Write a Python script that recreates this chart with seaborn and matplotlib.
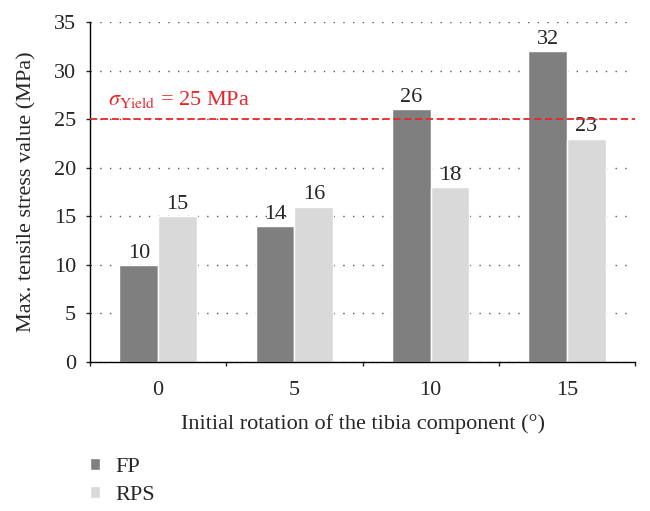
import pandas as pd
import matplotlib.pyplot as plt
import seaborn as sns
from matplotlib.ticker import FixedLocator

rotation = ["0", "5", "10", "15"]
fp_values = [10, 14, 26, 32]
rps_values = [15, 16, 18, 23]
yield_stress = 25

df = pd.DataFrame({
    "rotation": rotation * 2,
    "stress": fp_values + rps_values,
    "design": ["FP"] * 4 + ["RPS"] * 4,
})

sns.set_style("white")
plt.rcParams["font.family"] = ["Liberation Serif", "DejaVu Serif"]
plt.rcParams["mathtext.fontset"] = "stix"

fs = 16
fig = plt.figure(figsize=(6.5, 5.11), dpi=100)
ax = fig.add_axes([0.1385, 0.2916, 0.8385, 0.6654])

sns.barplot(data=df, x="rotation", y="stress", hue="design", order=rotation,
            palette={"FP": "#7f7f7f", "RPS": "#d9d9d9"}, width=0.57,
            saturation=1, ax=ax, legend=True)

for cont in ax.containers:
    ax.bar_label(cont, fontsize=fs, padding=1.5)

# yield line
ax.axhline(yield_stress, color="#e8262a", ls=(0, (4, 2)), lw=1.3, zorder=3)
ax.text(-0.37, 27.0, r"$\sigma_{\mathrm{Yield}}$ = 25 MPa",
        color="#e8262a", fontsize=fs, va="center")

ax.set_ylim(0, 35)
ax.set_xlim(-0.5, 3.5)
ax.set_yticks(range(0, 36, 5))
ax.yaxis.grid(True, ls=(0, (1, 6)), color="#555555", lw=1)
ax.set_axisbelow(True)

ax.xaxis.set_minor_locator(FixedLocator([-0.5, 0.5, 1.5, 2.5, 3.5]))
ax.tick_params(axis="x", which="major", length=0, pad=14, labelsize=fs)
ax.tick_params(axis="x", which="minor", length=3, width=1, direction="out", bottom=True)
ax.tick_params(axis="y", length=3, width=1, direction="out", left=True, labelsize=fs, pad=7)

for s in ["top", "right"]:
    ax.spines[s].set_visible(False)
for s in ["left", "bottom"]:
    ax.spines[s].set_color("black")
    ax.spines[s].set_linewidth(1)

ax.set_xlabel("Initial rotation of the tibia component (°)", fontsize=fs, labelpad=10)
ax.set_ylabel("Max. tensile stress value (MPa)", fontsize=fs)
ax.yaxis.set_label_coords(-0.099, 0.5)

handles, labels = ax.get_legend_handles_labels()
ax.legend(handles, labels, loc="upper left", bbox_to_anchor=(0.1385, 0.104),
          bbox_transform=fig.transFigure, frameon=False, fontsize=fs,
          handlelength=0.45, handleheight=0.45, handletextpad=0.7, labelspacing=0.4,
          borderpad=0, borderaxespad=0)

fig.savefig("out.png", dpi=100)
